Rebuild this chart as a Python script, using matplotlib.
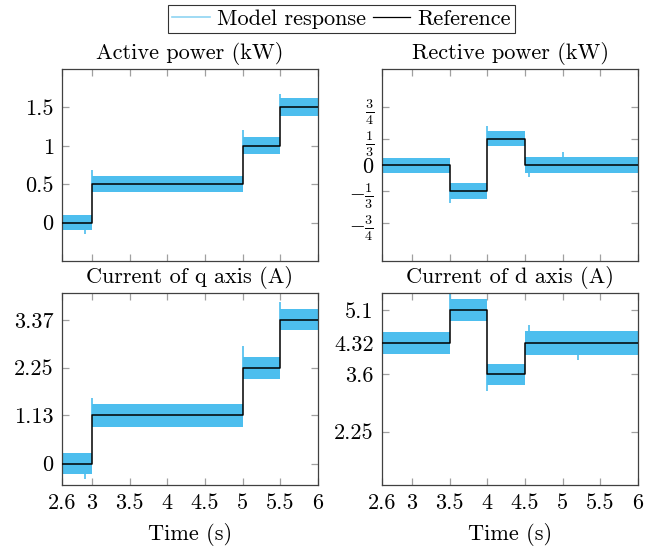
import numpy as np
import matplotlib
matplotlib.use("Agg")
import matplotlib.pyplot as plt
from matplotlib.lines import Line2D

plt.rcParams['font.family'] = 'serif'
plt.rcParams['font.serif'] = ['cmr10']
plt.rcParams['mathtext.fontset'] = 'cm'
plt.rcParams['axes.formatter.use_mathtext'] = True
FS = 16
plt.rcParams['font.size'] = FS

BAND = '#4DBEEE'
LEG_BLUE = '#8fd4f2'

# x axis
t_ticks = [2.6, 3, 3.5, 4, 4.5, 5, 5.5, 6]
t_labels = ['2.6', '3', '3.5', '4', '4.5', '5', '5.5', '6']

# Active power (kW)
p_edges = [2.6, 3.0, 5.0, 5.5, 6.0]
p_ref = [0.0, 0.5, 1.0, 1.5]
p_up = [0.10, 0.11, 0.11, 0.12]
p_dn = [0.09, 0.10, 0.11, 0.11]
p_spike_t = [3.0, 5.0, 5.5, 2.9]
p_spike_y = [0.69, 1.21, 1.68, -0.15]

# Reactive power (kW)
q_edges = [2.6, 3.5, 4.0, 4.5, 6.0]
q_ref = [0.0, -1/3, 1/3, 0.0]
q_up = [0.09, 0.10, 0.11, 0.10]
q_dn = [0.10, 0.11, 0.09, 0.10]
q_spike_t = [3.5, 4.0, 5.0, 4.55]
q_spike_y = [-0.50, 0.51, 0.17, -0.16]

# Current of q axis (A)
iq_edges = [2.6, 3.0, 5.0, 5.5, 6.0]
iq_ref = [0.0, 1.13, 2.25, 3.37]
iq_up = [0.25, 0.28, 0.24, 0.25]
iq_dn = [0.25, 0.27, 0.27, 0.24]
iq_spike_t = [3.0, 5.0, 5.5, 2.9]
iq_spike_y = [1.53, 2.75, 3.78, -0.35]

# Current of d axis (A)
id_edges = [2.6, 3.5, 4.0, 4.5, 6.0]
id_ref = [4.32, 5.1, 3.6, 4.32]
id_up = [0.26, 0.27, 0.23, 0.28]
id_dn = [0.26, 0.26, 0.25, 0.28]
id_spike_t = [3.5, 4.0, 5.2, 4.55]
id_spike_y = [5.49, 3.21, 3.92, 4.75]

panels = [
    dict(title='Active power (kW)', edges=p_edges, ref=p_ref, up=p_up, dn=p_dn,
         st=p_spike_t, sy=p_spike_y, ylim=(-0.5, 2.0),
         yt=[0, 0.5, 1, 1.5], yl=['0', '0.5', '1', '1.5'],
         rect=(62, 69, 318, 261), xlab=False),
    dict(title='Rective power (kW)', edges=q_edges, ref=q_ref, up=q_up, dn=q_dn,
         st=q_spike_t, sy=q_spike_y, ylim=(-1.25, 1.25),
         yt=[-0.75, -1/3, 0, 1/3, 0.75],
         yl=[r'$-\frac{3}{4}$', r'$-\frac{1}{3}$', '0', r'$\frac{1}{3}$', r'$\frac{3}{4}$'],
         rect=(382, 69, 638, 261), xlab=False),
    dict(title='Current of q axis (A)', edges=iq_edges, ref=iq_ref, up=iq_up, dn=iq_dn,
         st=iq_spike_t, sy=iq_spike_y, ylim=(-0.5, 4.0),
         yt=[0, 1.13, 2.25, 3.37], yl=['0', '1.13', '2.25', '3.37'],
         rect=(62, 293, 318, 485), xlab=True),
    dict(title='Current of d axis (A)', edges=id_edges, ref=id_ref, up=id_up, dn=id_dn,
         st=id_spike_t, sy=id_spike_y, ylim=(1.0, 5.5),
         yt=[2.25, 3.6, 4.32, 5.1], yl=['2.25', '3.6', '4.32', '5.1'],
         rect=(382, 293, 638, 485), xlab=True),
]

W, H = 659, 549
fig = plt.figure(figsize=(W / 100, H / 100), dpi=100)

for p in panels:
    x0, y0, x1, y1 = p['rect']
    ax = fig.add_axes([x0 / W, 1 - y1 / H, (x1 - x0) / W, (y1 - y0) / H])
    edges = np.array(p['edges'])
    ref = np.array(p['ref'])
    # model response band, one block per segment
    for i in range(len(ref)):
        ax.fill_between([edges[i], edges[i + 1]],
                        ref[i] - p['dn'][i], ref[i] + p['up'][i],
                        color=BAND, lw=0, zorder=2)
    # overshoot / outlier spikes of the noisy response
    for ts, ys in zip(p['st'], p['sy']):
        k = min(np.searchsorted(edges, ts, side='right') - 1, len(ref) - 1)
        ax.vlines(ts, ref[k], ys, color=BAND, lw=1.2, zorder=2)
    # reference step
    ax.step(edges, np.append(ref, ref[-1]), where='post', color='black',
            lw=1.1, zorder=3)

    ax.set_xlim(2.6, 6.0)
    ax.set_ylim(*p['ylim'])
    ax.set_xticks(t_ticks)
    ax.set_xticklabels(t_labels if p['xlab'] else [])
    ax.set_yticks(p['yt'])
    ax.set_yticklabels(p['yl'])
    ax.tick_params(direction='in', length=5, width=0.9, color='#a0a0a0',
                   top=True, right=True, labelsize=FS, pad=6)
    for lab in ax.get_yticklabels():
        if 'frac' in lab.get_text():
            lab.set_fontsize(14.5)
    for s in ax.spines.values():
        s.set_color('#404040')
        s.set_linewidth(0.9)
    ax.set_title(p['title'], fontsize=FS, pad=7)
    if p['xlab']:
        ax.set_xlabel('Time (s)', fontsize=FS, labelpad=7)

handles = [Line2D([], [], color=LEG_BLUE, lw=1.2),
           Line2D([], [], color='black', lw=0.9)]
leg = fig.legend(handles, ['Model response', 'Reference'], loc='center',
                 bbox_to_anchor=(341.5 / W, 1 - 19 / H), ncol=2, fontsize=FS,
                 frameon=True, fancybox=False, edgecolor='black',
                 handlelength=1.7, handletextpad=0.3, columnspacing=0.3,
                 borderpad=0.2, borderaxespad=0)
leg.get_frame().set_linewidth(0.8)

fig.savefig('out.png', dpi=100)
